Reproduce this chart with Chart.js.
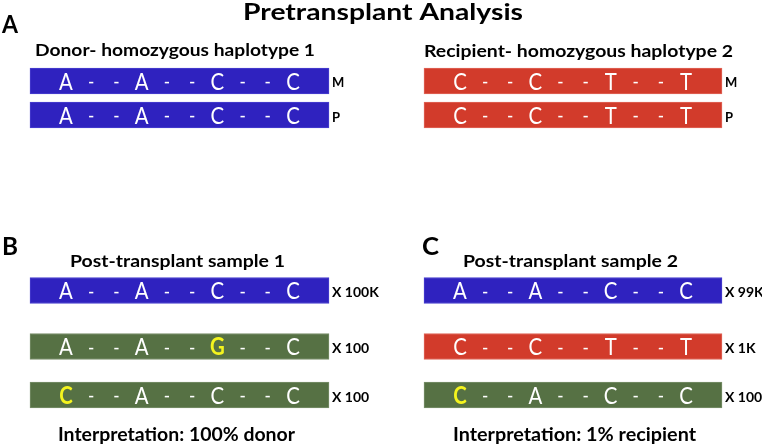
<!DOCTYPE html>
<html>
<head>
<meta charset="utf-8">
<script src="https://cdn.jsdelivr.net/npm/chart.js@4.4.1/dist/chart.umd.min.js"></script>
<style>
  html, body { margin: 0; padding: 0; background: #fff; overflow: hidden; }
  #wrap { width: 762px; height: 445px; position: relative; }
</style>
</head>
<body>
<div id="wrap"><canvas id="c" width="762" height="445"></canvas></div>
<script>
// ---- data ----
const donorHaplotype = 'A--A--C--C';
const recipientHaplotype = 'C--C--T--T';
const pretransplantAlleles = ['M', 'P'];
const sample1Reads = ['A--A--C--C', 'A--A--G--C', 'C--A--C--C'];
const sample1Origin = ['donor', 'error', 'error'];
const sample1Counts = ['X 100K', 'X 100', 'X 100'];
const sample2Reads = ['A--A--C--C', 'C--C--T--T', 'C--A--C--C'];
const sample2Origin = ['donor', 'recipient', 'error'];
const sample2Counts = ['X 99K', 'X 1K', 'X 100'];
const chartTitle = 'Pretransplant Analysis';
const panelTitles = ['Donor- homozygous haplotype 1', 'Recipient- homozygous haplotype 2',
                     'Post-transplant sample 1', 'Post-transplant sample 2'];
const interpretations = ['Interpretation: 100% donor', 'Interpretation: 1% recipient'];

// ---- layout / style ----
const colors = { donor: '#2f22bf', recipient: '#d23b2b', error: '#567144' };
const borders = { donor: '#4a40d0', recipient: '#e0675a', error: '#7a906b' };
const cols = [{ x0: 30, x1: 329 }, { x0: 424, x1: 722 }];
const preRowY = [81, 115];
const postRowY = [290.5, 346.5, 395];
const FONT = 'Lato, "Open Sans", sans-serif';

const rows = [];
pretransplantAlleles.forEach((a, i) => {
  rows.push({ col: 0, y: preRowY[i], seq: donorHaplotype, origin: 'donor', label: a, small: true });
  rows.push({ col: 1, y: preRowY[i], seq: recipientHaplotype, origin: 'recipient', label: a, small: true });
});
sample1Reads.forEach((s, i) => rows.push({ col: 0, y: postRowY[i], seq: s, origin: sample1Origin[i], label: sample1Counts[i] }));
sample2Reads.forEach((s, i) => rows.push({ col: 1, y: postRowY[i], seq: s, origin: sample2Origin[i], label: sample2Counts[i] }));

// free text: [text, left, right, centerY, size]
const texts = [
  [chartTitle, 243, 523, 13, 23],
  ['A', 2, 18, 25, 25],
  ['B', 2, 18, 247, 25],
  ['C', 422, 439, 247, 25],
  [panelTitles[0], 35, 315, 51, 17],
  [panelTitles[1], 424, 733, 52, 17],
  [panelTitles[2], 70, 285, 262, 17],
  [panelTitles[3], 463, 678, 262, 17],
  [interpretations[0], 58, 295, 435, 18],
  [interpretations[1], 453, 696, 435, 18]
];

function fitText(ctx, text, x0, x1, cy, font, color) {
  ctx.save();
  ctx.font = font;
  ctx.fillStyle = color;
  ctx.textAlign = 'center';
  ctx.textBaseline = 'middle';
  const w = ctx.measureText(text).width;
  ctx.translate((x0 + x1) / 2, cy);
  ctx.scale((x1 - x0) / w, 1);
  ctx.fillText(text, 0, 0);
  ctx.restore();
}

const textPlugin = {
  id: 'seqText',
  afterDatasetsDraw(chart) {
    const { ctx, scales: { x, y } } = chart;
    rows.forEach(r => {
      const c = cols[r.col];
      const step = (c.x1 - c.x0 - 72) / 9;
      const cy = y.getPixelForValue(r.y) + 1;
      r.seq.split('').forEach((ch, i) => {
        const cx = x.getPixelForValue(c.x0 + 36 + i * step);
        const mutated = r.origin === 'error' && ch !== donorHaplotype[i];
        ctx.save();
        ctx.textAlign = 'center';
        ctx.textBaseline = 'middle';
        ctx.fillStyle = mutated ? '#f4f41e' : '#ffffff';
        ctx.font = (mutated ? 'bold ' : '') + (ch === '-' ? '20px ' : '24px ') + FONT;
        ctx.translate(cx, cy);
        ctx.scale(0.85, 1);
        ctx.fillText(ch, 0, 0);
        ctx.restore();
      });
      // M / P / count label
      ctx.save();
      ctx.font = (r.small ? 'bold 13px ' : 'bold 14px ') + FONT;
      ctx.fillStyle = '#000';
      ctx.textAlign = 'left';
      ctx.textBaseline = 'middle';
      const lx = x.getPixelForValue(c.x1 + 3);
      const ly = y.getPixelForValue(r.small && r.label === 'P' ? r.y + 3 : r.y + 2);
      ctx.fillText(r.label, lx, ly);
      ctx.restore();
    });
    texts.forEach(t => {
      fitText(ctx, t[0], x.getPixelForValue(t[1]), x.getPixelForValue(t[2]),
              y.getPixelForValue(t[3]), 'bold ' + t[4] + 'px ' + FONT, '#000');
    });
  }
};

new Chart(document.getElementById('c'), {
  type: 'bar',
  data: {
    datasets: [{
      data: rows.map(r => ({ x: [cols[r.col].x0, cols[r.col].x1], y: r.y })),
      backgroundColor: rows.map(r => colors[r.origin]),
      borderColor: rows.map(r => borders[r.origin]),
      borderWidth: 1,
      borderSkipped: false,
      barThickness: 26
    }]
  },
  options: {
    indexAxis: 'y',
    responsive: false,
    animation: false,
    layout: { padding: 0 },
    plugins: { legend: { display: false }, tooltip: { enabled: false } },
    scales: {
      x: { type: 'linear', min: 0, max: 762, offset: false, display: false },
      y: { type: 'linear', min: 0, max: 445, reverse: true, offset: false, display: false }
    }
  },
  plugins: [textPlugin]
});
</script>
</body>
</html>
